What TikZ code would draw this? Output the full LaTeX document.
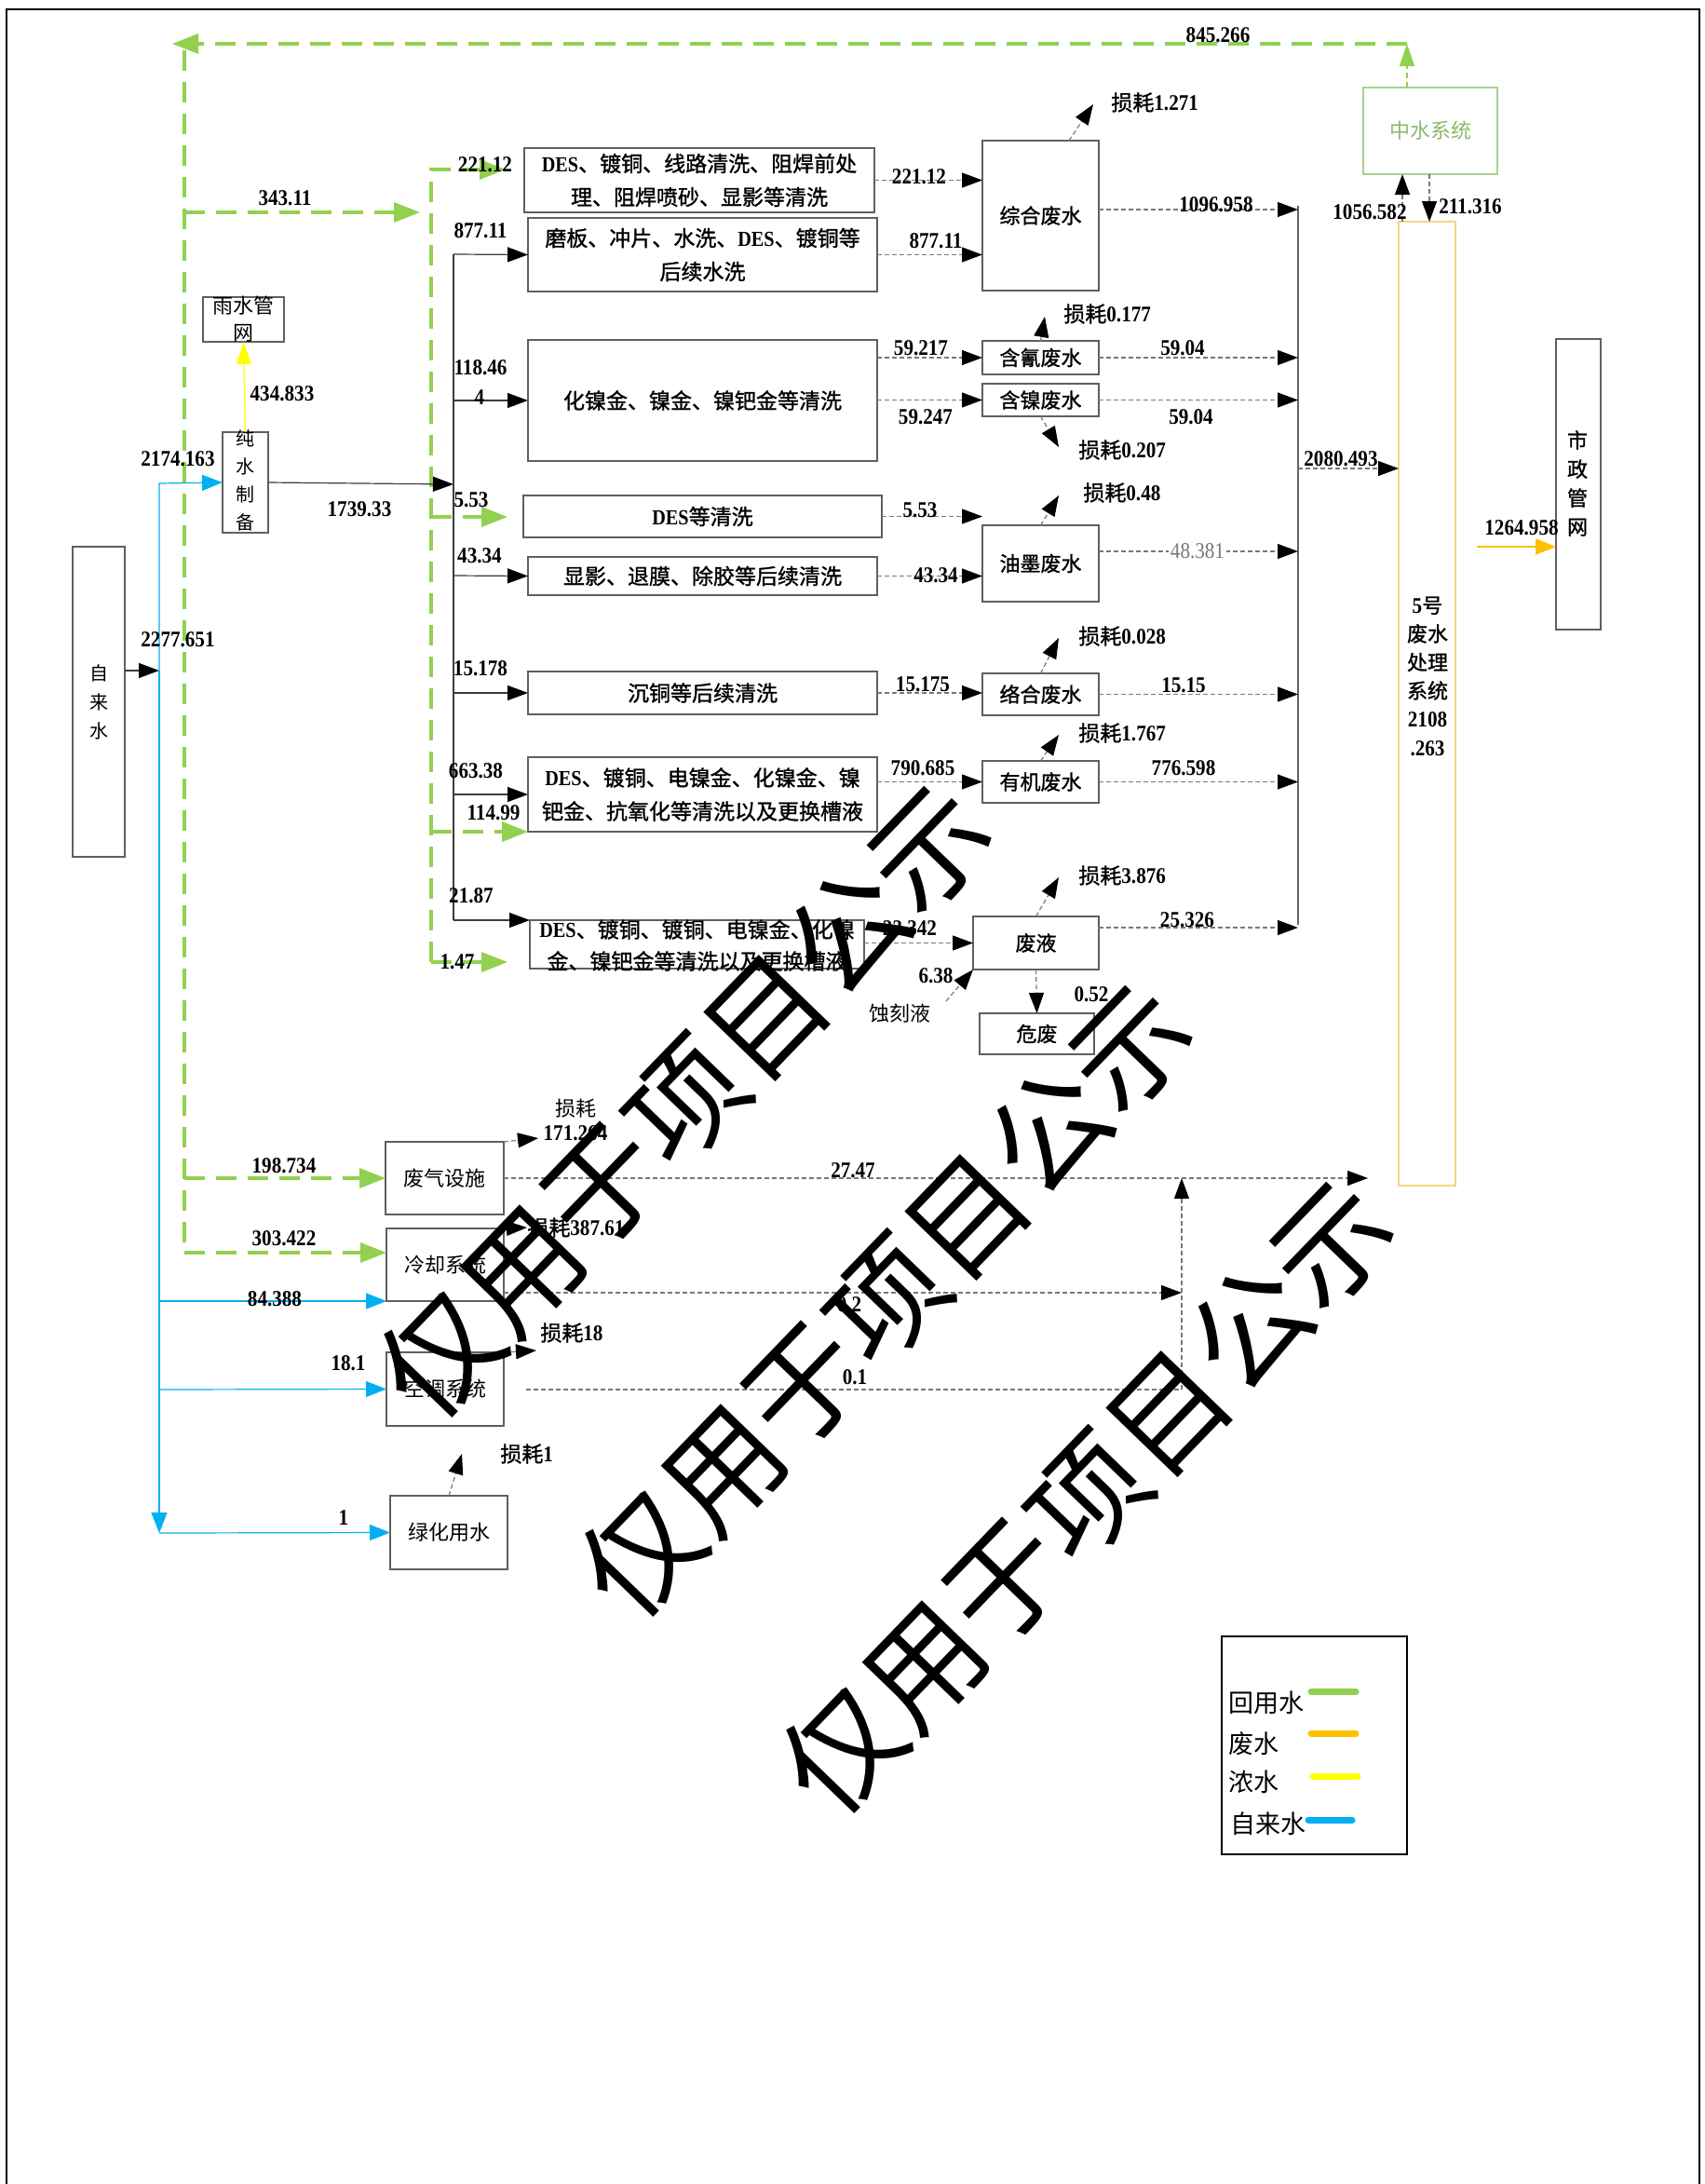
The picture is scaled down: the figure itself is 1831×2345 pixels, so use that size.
\documentclass[tikz,border=0pt]{standalone}
\usepackage{fontspec}
\setmainfont{Noto Sans CJK SC}
\newfontfamily\cjk{Noto Sans CJK SC}
\newfontfamily\cjkb[FakeBold=1.2]{Noto Sans CJK SC}
\newfontfamily\lat[FakeStretch=0.88]{Liberation Serif}
\usetikzlibrary{arrows.meta,fit,calc}

\definecolor{cgreen}{RGB}{146,208,80}
\definecolor{cblue}{RGB}{0,176,240}
\definecolor{cyellow}{RGB}{255,255,0}
\definecolor{corange}{RGB}{255,192,0}
\definecolor{boxc}{RGB}{95,95,95}
\definecolor{dashc}{RGB}{120,120,120}
\definecolor{lnc}{RGB}{60,60,60}
\definecolor{zsc}{RGB}{169,209,142}
\definecolor{zst}{RGB}{140,185,105}
\definecolor{wfc}{RGB}{247,212,130}

\newcommand\fbx{\cjkb\fontsize{11.5}{17}\selectfont}
\newcommand\fsm{\cjkb\fontsize{11}{14}\selectfont}
\newcommand\freg{\cjk\fontsize{11}{14}\selectfont}
\newcommand\fnm{\lat\bfseries\fontsize{12}{14}\selectfont}
\newcommand\DESx{{\lat\bfseries DES}}
\newcommand\ssh[1]{{\cjkb\fontsize{11.5}{14}\selectfont 损耗}{\fnm #1}}

\tikzset{
 box/.style={draw=boxc, line width=0.8pt, inner sep=0pt, outer sep=0pt},
 txt/.style={inner sep=0pt, align=center},
 bt/.style={inner sep=0pt, align=center, font=\fbx},
 nm/.style={inner sep=0pt, font=\fnm},
 tipk/.style={-{Triangle[length=11pt,width=8pt,color=black]}},
 sln/.style={draw=lnc, line width=0.6pt, tipk},
 dln/.style={draw=dashc, line width=0.6pt, dash pattern=on 2.5pt off 1.5pt},
 gdl/.style={draw=cgreen, line width=1.8pt, dash pattern=on 11pt off 6pt},
 gtip/.style={-{Triangle[length=14pt,width=10.5pt]}},
 bln/.style={draw=cblue, line width=0.6pt, -{Triangle[length=11pt,width=8.5pt]}},
}

\begin{document}
\begin{tikzpicture}[x=0.5pt,y=-0.5pt]
\useasboundingbox (0,0) rectangle (1831,2345);
% frame
\draw[line width=1pt] (7,2345) -- (7,10) -- (1825,10) -- (1825,2345);

% ---------------- boxes ----------------
\node[box, fit={(78,587)(134,920)}] (zls) {};
\node[txt, font=\cjk\fontsize{10}{15.5}\selectfont] (zlst) at (zls.center) {自\\来\\水};
\node[box, fit={(239,464)(288,572)}] (cs) {};
\node[txt, font=\cjk\fontsize{10}{15}\selectfont] (cst) at (263.5,516) {纯\\水\\制\\备};
\node[box, fit={(218,319)(305,367)}] (ys) {};
\node[txt, font=\cjk\fontsize{11}{14.5}\selectfont] (yst) at (ys.center) {雨水管\\网};

\node[box, fit={(563,159)(939,228)}] (b1) {};
\node[bt, font=\cjkb\fontsize{11.5}{18}\selectfont] (b1t) at (b1.center) {\DESx、镀铜、线路清洗、阻焊前处\\理、阻焊喷砂、显影等清洗};
\node[box, fit={(567,234)(942,313)}] (b2) {};
\node[bt, font=\cjkb\fontsize{11.5}{18}\selectfont] (b2t) at (b2.center) {磨板、冲片、水洗、\DESx、镀铜等\\后续水洗};
\node[box, fit={(567,365)(942,495)}] (b3) {};
\node[bt] (b3t) at (b3.center) {化镍金、镍金、镍钯金等清洗};
\node[box, fit={(562,532)(947,577)}] (b4) {};
\node[bt] (b4t) at (b4.center) {\DESx 等清洗};
\node[box, fit={(567,598)(942,639)}] (b5) {};
\node[bt] (b5t) at (b5.center) {显影、退膜、除胶等后续清洗};
\node[box, fit={(567,721)(942,767)}] (b6) {};
\node[bt] (b6t) at (b6.center) {沉铜等后续清洗};
\node[box, fit={(567,813)(942,893)}] (b7) {};
\node[bt, font=\cjkb\fontsize{11.5}{18}\selectfont] (b7t) at (b7.center) {\DESx、镀铜、电镍金、化镍金、镍\\钯金、抗氧化等清洗以及更换槽液};
\node[box, fit={(569,988)(928,1040)}] (b8) {};
\node[bt] (b8t) at (748.5,1015) {\DESx、镀铜、镀铜、电镍金、化镍\\金、镍钯金等清洗以及更换槽液};

\node[box, fit={(1055,151)(1180,312)}] (zh) {};
\node[bt, font=\fsm] (zht) at (zh.center) {综合废水};
\node[box, fit={(1055,366)(1180,402)}] (hq) {};
\node[bt, font=\fsm] (hqt) at (hq.center) {含氰废水};
\node[box, fit={(1055,412)(1180,447)}] (hn) {};
\node[bt, font=\fsm] (hnt) at (hn.center) {含镍废水};
\node[box, fit={(1055,564)(1180,646)}] (ym) {};
\node[bt, font=\fsm] (ymt) at (ym.center) {油墨废水};
\node[box, fit={(1055,723)(1180,768)}] (lh) {};
\node[bt, font=\fsm] (lht) at (lh.center) {络合废水};
\node[box, fit={(1055,817)(1180,862)}] (yj) {};
\node[bt, font=\fsm] (yjt) at (yj.center) {有机废水};
\node[box, fit={(1045,984)(1180,1041)}] (fy) {};
\node[bt, font=\fsm] (fyt) at (fy.center) {废液};
\node[box, fit={(1052,1088)(1175,1132)}] (wf) {};
\node[bt, font=\fsm] (wft) at (wf.center) {危废};

\node[box, draw=zsc, line width=0.6pt, fit={(1464,94)(1608,187)}] (zs) {};
\node[bt, text=zst, font=\freg] (zst) at (zs.center) {中水系统};
\node[box, draw=wfc, line width=0.6pt, fit={(1502,238)(1563,1273)}] (w5) {};
\node[txt, font=\cjkb\fontsize{11}{15.3}\selectfont] (w5t) at (1533,726) {{\fnm 5}号\\废水\\处理\\系统\\{\fnm 2108}\\{\fnm .263}};
\node[box, fit={(1671,364)(1719,676)}] (sz) {};
\node[txt, font=\cjkb\fontsize{11}{15.5}\selectfont] (szt) at (1694,519) {市\\政\\管\\网};

\node[box, fit={(414,1226)(541,1304)}] (fq) {};
\node[bt, font=\freg] (fqt) at (fq.center) {废气设施};
\node[box, fit={(415,1319)(541,1397)}] (lq) {};
\node[bt, font=\freg] (lqt) at (lq.center) {冷却系统};
\node[box, fit={(415,1452)(541,1531)}] (kt) {};
\node[bt, font=\freg] (ktt) at (kt.center) {空调系统};
\node[box, fit={(419,1606)(545,1685)}] (lhys) {};
\node[bt, font=\freg] (lhyst) at (lhys.center) {绿化用水};

% ---------------- green recycled water ----------------
\coordinate (gA) at (1511,47);
\coordinate (gB) at (185,47);
\draw[draw=cgreen, line width=0.6pt, dash pattern=on 3pt off 2pt, -{Triangle[length=12pt,width=8pt]}] (zs.north -| gA) -- (gA);
\draw[gdl, gtip] (gA) -- (gB);
\draw[gdl] (198,54) -- (198,1345);
\draw[gdl, gtip] (198,228) -- (451,228);
\draw[gdl, gtip] (463,1033) -- (463,182) -- (543,182);
\draw[gdl, gtip] (463,555) -- (545,555);
\draw[gdl, gtip] (463,893) -- (b7.south west);
\draw[gdl, gtip] (463,1033) -- (545,1033);
\draw[gdl, gtip] (198,1265) -- (fq.west);
\draw[gdl, gtip] (198,1345) -- (lq.west |- 198,1345);

% ---------------- black solid ----------------
\coordinate (bt) at (487,273);
\coordinate (bb) at (487,988);
\draw[sln] (zls.east |- 171,720) -- (171,720);
\draw[sln] (cs.east) -- (487,520);
\draw[draw=lnc, line width=0.6pt] (bt) -- (bb);
\draw[sln] (bt) -- (b2.west);
\draw[sln] (487,430) -- (b3.west);
\draw[sln] (487,618) -- (b5.west);
\draw[sln] (487,744) -- (b6.west);
\draw[sln] (487,853) -- (b7.west);
\draw[sln] (bb) -- (b8.north west);

% ---------------- blue tap water ----------------
\draw[bln] (171,720) -- (171,519) -- (cs.west);
\draw[bln] (171,720) -- (171,1646);
\draw[bln] (171,1646) -- (lhys.west);
\draw[bln] (171,1397) -- (lq.south west);
\draw[bln] (171,1492) -- (kt.west);

% yellow / orange
\draw[draw=cyellow, line width=0.6pt, -{Triangle[length=12pt,width=8pt]}] (cs.north) -- (ys.south);
\draw[draw=corange, line width=0.8pt, -{Triangle[length=11pt,width=8.5pt]}] (1586,587) -- (sz.west |- 1586,587);

% ---------------- dashed waste water ----------------
\coordinate (cl) at (1394,221);
\coordinate (clb) at (1394,993);
\draw[draw=lnc!80, line width=0.6pt] (cl) -- (clb);
\draw[dln, tipk] (b1.east) -- (zh.west |- b1.east);
\draw[dln, tipk] (b2.east) -- (zh.west |- b2.east);
\draw[dln, tipk] (zh.east |- 0,225) -- (cl |- 0,225);
\draw[dln, tipk] (b3.east |- hq.west) -- (hq.west);
\draw[dln, tipk] (b3.east |- hn.west) -- (hn.west);
\draw[dln, tipk] (hq.east) -- (cl |- hq.east);
\draw[dln, tipk] (hn.east) -- (cl |- hn.east);
\draw[dln, tipk] (b4.east) -- (ym.west |- b4.east);
\draw[dln, tipk] (b5.east) -- (ym.west |- b5.east);
\draw[dln, tipk] (ym.east |- 0,592) -- (cl |- 0,592);
\draw[dln, tipk] (b6.east) -- (lh.west |- b6.east);
\draw[dln, tipk] (lh.east) -- (cl |- lh.east);
\draw[dln, tipk] (b7.east |- yj.west) -- (yj.west);
\draw[dln, tipk] (yj.east) -- (cl |- yj.east);
\draw[dln, tipk] (b8.east |- fy.west) -- (fy.west);
\draw[dln, tipk] (fy.east |- 0,996) -- (cl |- 0,996);
\draw[dln, tipk] (cl |- 0,503) -- (w5.west |- 0,503);
\draw[dln, tipk] (fy.south) -- (wf.north);
\coordinate (skA) at (1016,1075);
\draw[dln, tipk] (skA) -- (fy.south west);
\draw[dln, tipk] (w5.north -| 1506,0) -- (zs.south -| 1506,0);
\draw[dln, tipk] (zs.south -| 1535,0) -- (w5.north -| 1535,0);

% losses
\coordinate (t1) at (1174,112);
\coordinate (t2) at (1122,340);
\coordinate (t3) at (1137,480);
\coordinate (t4) at (1137,532);
\coordinate (t5) at (1137,685);
\coordinate (t6) at (1137,789);
\coordinate (t7) at (1137,942);
\coordinate (t8) at (578,1222);
\coordinate (t9) at (566,1318);
\coordinate (t10) at (576,1450);
\coordinate (t11) at (496,1561);
\draw[dln, tipk] (zh.north -| 1148,0) -- (t1);
\draw[dln, tipk] (hq.north) -- (t2);
\draw[dln, tipk] (hn.south) -- (t3);
\draw[dln, tipk] (ym.north) -- (t4);
\draw[dln, tipk] (lh.north) -- (t5);
\draw[dln, tipk] (yj.north) -- (t6);
\draw[dln, tipk] (fy.north) -- (t7);
\draw[dln, tipk] (fq.north east) -- (t8);
\draw[dln, tipk] (lq.north east) -- (t9);
\draw[dln, tipk] (kt.north east) -- (t10);
\draw[dln, tipk] (lhys.north) -- (t11);

% lower dashed
\coordinate (vx) at (1269,1265);
\coordinate (vb) at (1269,1492);
\draw[dln, tipk] (fq.east) -- (1469,1265);
\draw[dln, tipk] (lq.east |- 0,1388) -- (vx |- 0,1388);
\draw[dln] (565,1492) -- (vb);
\draw[dln, tipk] (vb) -- (vx);

% ---------------- labels ----------------
\node[nm] (n1) at (1308,38) {845.266};
\node[nm] (n2) at (306,213) {343.11};
\node[nm] (n3) at (521,177) {221.12};
\node[nm] (n4) at (987,190) {221.12};
\node[nm] (n5) at (516,248) {877.11};
\node[nm] (n6) at (1005,259) {877.11};
\node[nm] (n7) at (1306,220) {1096.958};
\node[nm] (n8) at (1471,228) {1056.582};
\node[nm] (n9) at (1579,222) {211.316};
\node[nm] (n10) at (303,423) {434.833};
\node[nm] (n11) at (191,493) {2174.163};
\node[nm] (n12) at (386,547) {1739.33};
\node[nm] (n13) at (516,395) {118.46};
\node[nm] (n14) at (515,427) {4};
\node[nm] (n15) at (989,374) {59.217};
\node[nm] (n16) at (994,448) {59.247};
\node[nm] (n17) at (1270,374) {59.04};
\node[nm] (n18) at (1279,448) {59.04};
\node[nm] (n19) at (1440,493) {2080.493};
\node[nm] (n20) at (506,537) {5.53};
\node[nm] (n21) at (988,548) {5.53};
\node[nm] (n22) at (515,597) {43.34};
\node[nm] (n23) at (1005,618) {43.34};
\node[inner sep=1pt, fill=white, text=dashc, font=\lat\fontsize{12}{14}\selectfont] (n24) at (1286,592) {48.381};
\node[nm] (n25) at (1634,567) {1264.958};
\node[nm] (n26) at (191,687) {2277.651};
\node[nm] (n27) at (516,718) {15.178};
\node[nm] (n28) at (991,735) {15.175};
\node[nm] (n29) at (1271,736) {15.15};
\node[nm] (n30) at (511,828) {663.38};
\node[nm] (n31) at (530,873) {114.99};
\node[nm] (n32) at (991,825) {790.685};
\node[nm] (n33) at (1271,825) {776.598};
\node[nm] (n34) at (506,962) {21.87};
\node[nm] (n35) at (491,1033) {1.47};
\node[nm] (n36) at (977,997) {23.342};
\node[nm] (n37) at (1275,988) {25.326};
\node[nm] (n38) at (1005,1048) {6.38};
\node[nm] (n39) at (1172,1068) {0.52};
\node[txt, font=\freg] (skl) at (966,1088) {蚀刻液};
\node[nm] (n40) at (305,1252) {198.734};
\node[nm] (n41) at (305,1330) {303.422};
\node[nm] (n42) at (295,1395) {84.388};
\node[nm] (n43) at (374,1464) {18.1};
\node[nm] (n44) at (369,1630) {1};
\node[nm] (n45) at (916,1257) {27.47};
\node[nm] (n46) at (912,1401) {0.2};
\node[nm] (n47) at (918,1479) {0.1};

\node[inner sep=0, anchor=west] (s1) at (1193,110) {\ssh{1.271}};
\node[inner sep=0, anchor=west] (s2) at (1142,337) {\ssh{0.177}};
\node[inner sep=0, anchor=west] (s3) at (1158,483) {\ssh{0.207}};
\node[inner sep=0, anchor=west] (s4) at (1163,529) {\ssh{0.48}};
\node[inner sep=0, anchor=west] (s5) at (1158,683) {\ssh{0.028}};
\node[inner sep=0, anchor=west] (s6) at (1158,787) {\ssh{1.767}};
\node[inner sep=0, anchor=west] (s7) at (1158,940) {\ssh{3.876}};
\node[txt] (s8) at (618,1202) {{\freg 损耗}\\[1pt]{\fnm 171.264}};
\node[inner sep=0, anchor=west] (s9) at (566,1318) {\ssh{387.61}};
\node[inner sep=0, anchor=west] (s10) at (580,1431) {\ssh{18}};
\node[inner sep=0, anchor=west] (s11) at (537,1561) {\ssh{1}};

% ---------------- legend ----------------
\node[draw=black, line width=1pt, inner sep=0pt, fit={(1312,1757)(1511,1991)}] (leg) {};
\node[inner sep=0, anchor=west, font=\cjk\fontsize{13.5}{15}\selectfont] (lg1) at (1319,1828) {回用水};
\node[inner sep=0, anchor=west, font=\cjk\fontsize{13.5}{15}\selectfont] (lg2) at (1319,1872) {废水};
\node[inner sep=0, anchor=west, font=\cjk\fontsize{13.5}{15}\selectfont] (lg3) at (1319,1913) {浓水};
\node[inner sep=0, anchor=west, font=\cjk\fontsize{13.5}{15}\selectfont] (lg4) at (1321,1958) {自来水};
\draw[cgreen, line width=3.5pt, line cap=round] (1408,1816) -- (1456,1816);
\draw[corange, line width=3.5pt, line cap=round] (1408,1861) -- (1456,1861);
\draw[cyellow, line width=3.5pt, line cap=round] (1410,1907) -- (1458,1907);
\draw[cblue, line width=3.5pt, line cap=round] (1405,1954) -- (1452,1954);

% ---------------- watermark ----------------
\node[inner sep=0, rotate=46, font=\cjk\fontsize{63}{63}\selectfont] (wm1) at (735,1182) {仅用于项目公示};
\node[inner sep=0, rotate=46, font=\cjk\fontsize{63}{63}\selectfont] (wm2) at (951,1396) {仅用于项目公示};
\node[inner sep=0, rotate=46, font=\cjk\fontsize{63}{63}\selectfont] (wm3) at (1167,1607) {仅用于项目公示};
\end{tikzpicture}
\end{document}
